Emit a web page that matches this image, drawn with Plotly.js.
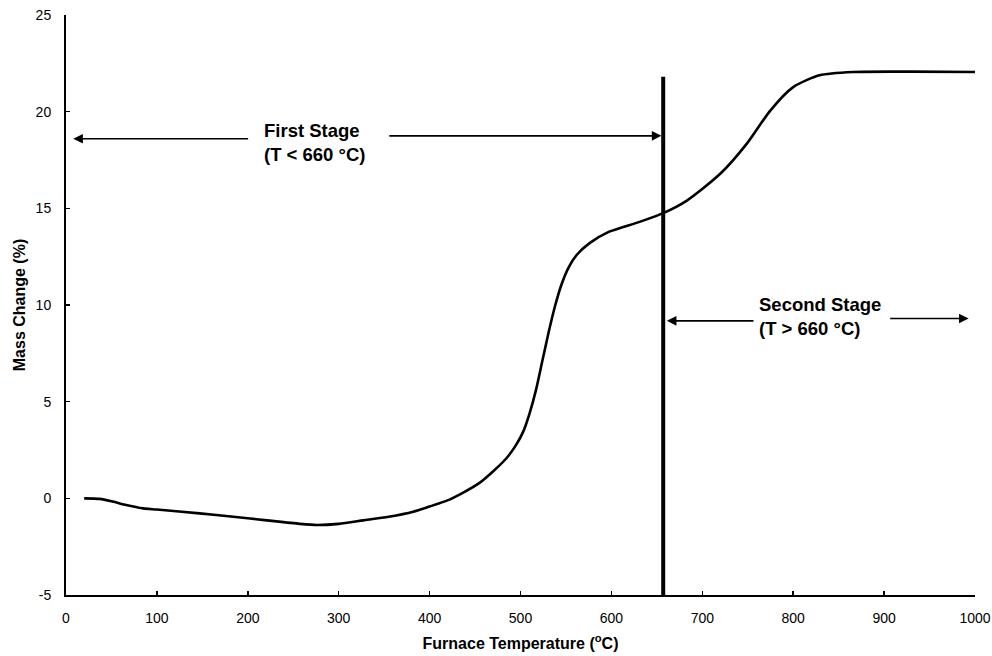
<!DOCTYPE html>
<html>
<head>
<meta charset="utf-8">
<script src="https://cdn.plot.ly/plotly-3.0.1.min.js"></script>
<style>html,body{margin:0;padding:0;background:#fff;}#chart{width:992px;height:656px;}</style>
</head>
<body>
<div id="chart"></div>
<script>
// Mass change curve (furnace temperature °C, mass change %)
const temperature = [20, 37, 50, 65, 85, 100, 147, 184, 221, 257, 276, 300, 327, 355, 382, 400, 419, 437, 455, 470, 485, 495, 503, 510, 517, 524, 531, 538, 545, 553, 562, 576, 597, 631, 657, 683, 720, 749, 775, 800, 829, 866, 930, 1000];
const massChange  = [0.0, -0.03, -0.15, -0.33, -0.52, -0.58, -0.78, -0.95, -1.14, -1.32, -1.38, -1.32, -1.14, -0.95, -0.69, -0.42, -0.12, 0.3, 0.8, 1.4, 2.1, 2.75, 3.45, 4.4, 5.6, 7.1, 8.6, 9.95, 11.05, 11.95, 12.6, 13.2, 13.78, 14.3, 14.75, 15.4, 16.8, 18.35, 20.07, 21.27, 21.88, 22.05, 22.07, 22.05];

// Stage boundary line
const boundaryX = [657, 657];
const boundaryY = [-5, 21.8];

// Stage labels
const stageLabels = ["<b>First Stage<br>(T < 660 °C)</b>", "<b>Second Stage<br>(T > 660 °C)</b>"];
const labelX = [273, 829];
const labelY = [18.4, 9.4];

// Arrows: head (x,y) and tail (ax,ay)
const arrowHeadX = [8, 655, 661, 993];
const arrowHeadY = [18.6, 18.75, 9.18, 9.3];
const arrowTailX = [202, 354, 758, 905];
const arrowTailY = [18.6, 18.75, 9.18, 9.3];

const xTicks = [0, 100, 200, 300, 400, 500, 600, 700, 800, 900, 1000];
const yTicks = [-5, 0, 5, 10, 15, 20, 25];

const fontFam = "Liberation Sans, Arial, sans-serif";

const traces = [
  {x: temperature, y: massChange, mode: 'lines', line: {color: '#000', width: 2.6, shape: 'spline', smoothing: 0.7}, hoverinfo: 'skip'},
  {x: boundaryX, y: boundaryY, mode: 'lines', line: {color: '#000', width: 4}, hoverinfo: 'skip'}
];

const annotations = [];
for (let i = 0; i < stageLabels.length; i++) {
  annotations.push({x: labelX[i], y: labelY[i], xref: 'x', yref: 'y', text: stageLabels[i], showarrow: false,
    align: 'left', font: {family: fontFam, size: 18.5, color: '#000'}});
}
for (let i = 0; i < arrowHeadX.length; i++) {
  annotations.push({x: arrowHeadX[i], y: arrowHeadY[i], ax: arrowTailX[i], ay: arrowTailY[i], xref: 'x', yref: 'y', axref: 'x', ayref: 'y',
    text: '', showarrow: true, arrowhead: 2, arrowsize: 1.2, arrowwidth: 1.6, arrowcolor: '#000'});
}

const layout = {
  width: 992, height: 656,
  margin: {l: 66, r: 17, t: 15, b: 61, pad: 0},
  paper_bgcolor: '#fff', plot_bgcolor: '#fff',
  showlegend: false,
  font: {family: fontFam, color: '#000', size: 14},
  xaxis: {
    range: [0, 1000], tickvals: xTicks, ticktext: xTicks.map(String),
    ticks: 'inside', ticklen: 4, tickwidth: 1.5, tickcolor: '#000',
    showline: true, linecolor: '#000', linewidth: 2, showgrid: false, zeroline: false,
    ticklabelstandoff: 9,
    tickfont: {family: fontFam, size: 14, color: '#000'},
    title: {text: '<b>Furnace Temperature (<sup>o</sup>C)</b>', font: {family: fontFam, size: 16, color: '#000'}, standoff: 13}
  },
  yaxis: {
    range: [-5, 25], tickvals: yTicks, ticktext: yTicks.map(String),
    ticks: 'inside', ticklen: 4, tickwidth: 1.5, tickcolor: '#000',
    showline: true, linecolor: '#000', linewidth: 2, showgrid: false, zeroline: false,
    ticklabelstandoff: 10,
    tickfont: {family: fontFam, size: 14, color: '#000'},
    title: {text: '<b>Mass Change (%)</b>', font: {family: fontFam, size: 16, color: '#000'}, standoff: 6}
  },
  annotations: annotations
};

Plotly.newPlot('chart', traces, layout, {displayModeBar: false, staticPlot: true});
</script>
</body>
</html>
